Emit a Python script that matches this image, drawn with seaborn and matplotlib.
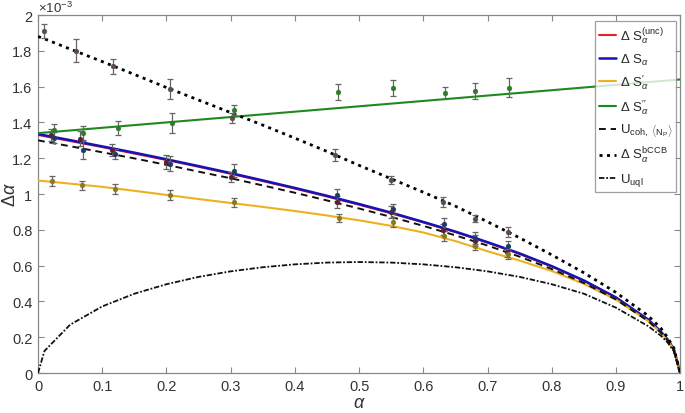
import numpy as np
import pandas as pd
import matplotlib
matplotlib.use("Agg")
import matplotlib.pyplot as plt
import seaborn as sns

# ---- curve data (values in units of 1e-3) ----
alpha_grid = [0.0, 0.01, 0.05, 0.1, 0.15, 0.2, 0.25, 0.3, 0.35, 0.4, 0.45, 0.5, 0.55,
              0.6, 0.65, 0.7, 0.75, 0.8, 0.85, 0.9, 0.95, 0.97, 0.98, 0.99, 1.0]
dS_unc = [1.330, 1.323, 1.296, 1.262, 1.226, 1.190, 1.152, 1.113, 1.072, 1.030, 0.986, 0.940,
          0.892, 0.841, 0.787, 0.728, 0.665, 0.595, 0.515, 0.421, 0.297, 0.230, 0.188, 0.133, 0.0]
dS = [1.335, 1.328, 1.301, 1.266, 1.231, 1.194, 1.156, 1.117, 1.076, 1.034, 0.990, 0.944,
      0.896, 0.844, 0.790, 0.731, 0.668, 0.597, 0.517, 0.422, 0.299, 0.231, 0.189, 0.134, 0.0]
dS_p = [1.075, 1.072, 1.058, 1.040, 1.018, 0.995, 0.972, 0.950, 0.928, 0.905, 0.880, 0.853,
        0.822, 0.785, 0.737, 0.680, 0.628, 0.570, 0.498, 0.410, 0.290, 0.225, 0.184, 0.130, 0.0]
dS_pp = [1.340, 1.343, 1.355, 1.370, 1.385, 1.400, 1.415, 1.430, 1.445, 1.460, 1.475, 1.490, 1.505,
         1.520, 1.535, 1.550, 1.565, 1.580, 1.595, 1.610, 1.625, 1.631, 1.634, 1.637, 1.640]
U_coh = [1.300, 1.293, 1.267, 1.233, 1.199, 1.163, 1.125, 1.088, 1.048, 1.007, 0.964, 0.919,
         0.872, 0.822, 0.769, 0.712, 0.650, 0.581, 0.503, 0.411, 0.291, 0.225, 0.184, 0.130, 0.0]
dS_bCCB = [1.880, 1.867, 1.810, 1.740, 1.668, 1.595, 1.525, 1.455, 1.385, 1.312, 1.238, 1.160, 1.085,
           1.010, 0.932, 0.845, 0.755, 0.660, 0.560, 0.450, 0.320, 0.250, 0.200, 0.140, 0.0]
U_uql = [0.0, 0.123, 0.270, 0.372, 0.443, 0.496, 0.537, 0.568, 0.591, 0.607, 0.617, 0.620, 0.617,
         0.607, 0.591, 0.568, 0.537, 0.496, 0.443, 0.365, 0.262, 0.208, 0.172, 0.122, 0.0]

# ---- measured points (values in units of 1e-3) ----
bccb_x = [0.009, 0.059, 0.116, 0.205, 0.302, 0.463, 0.550, 0.631, 0.680, 0.732]
bccb_y = [1.91, 1.80, 1.715, 1.587, 1.425, 1.218, 1.078, 0.955, 0.862, 0.788]
bccb_e = [0.040, 0.065, 0.042, 0.055, 0.030, 0.035, 0.020, 0.030, 0.020, 0.030]

grn_x = [0.025, 0.070, 0.124, 0.208, 0.305, 0.467, 0.552, 0.634, 0.681, 0.733]
grn_y = [1.355, 1.340, 1.370, 1.395, 1.469, 1.570, 1.590, 1.564, 1.575, 1.595]
grn_e = [0.035, 0.040, 0.040, 0.055, 0.030, 0.045, 0.045, 0.035, 0.045, 0.055]

red_x = [0.020, 0.065, 0.115, 0.200, 0.300, 0.465, 0.550, 0.630, 0.680, 0.730]
red_y = [1.330, 1.310, 1.245, 1.180, 1.095, 0.955, 0.900, 0.800, 0.740, 0.676]
red_e = [0.035, 0.040, 0.035, 0.040, 0.030, 0.035, 0.035, 0.030, 0.030, 0.030]

blu_x = [0.025, 0.070, 0.120, 0.205, 0.305, 0.465, 0.552, 0.632, 0.681, 0.732]
blu_y = [1.315, 1.245, 1.223, 1.170, 1.130, 0.995, 0.916, 0.830, 0.755, 0.710]
blu_e = [0.030, 0.050, 0.030, 0.040, 0.035, 0.035, 0.030, 0.035, 0.035, 0.030]

yel_x = [0.022, 0.068, 0.120, 0.205, 0.305, 0.468, 0.552, 0.632, 0.680, 0.732]
yel_y = [1.072, 1.050, 1.028, 0.994, 0.955, 0.866, 0.843, 0.765, 0.710, 0.665]
yel_e = [0.030, 0.025, 0.030, 0.030, 0.025, 0.025, 0.030, 0.030, 0.025, 0.030]

x_ticks = [0, 0.1, 0.2, 0.3, 0.4, 0.5, 0.6, 0.7, 0.8, 0.9, 1]
y_ticks = [0, 0.2, 0.4, 0.6, 0.8, 1.0, 1.2, 1.4, 1.6, 1.8, 2.0]

sns.set_theme(style="white")
plt.rcParams['font.family'] = ['Liberation Sans', 'DejaVu Sans']
plt.rcParams['mathtext.fontset'] = 'custom'
plt.rcParams['mathtext.rm'] = 'Liberation Sans'
plt.rcParams['mathtext.it'] = 'Liberation Sans:italic'
plt.rcParams['mathtext.sf'] = 'Liberation Sans'

fig = plt.figure(figsize=(6.85, 4.14), dpi=100)
ax = fig.add_axes([0.0555, 0.0966, 0.9375, 0.8647])

df = pd.DataFrame({"alpha": alpha_grid})
curves = [
    (dS_unc, "#e0242b", "-", 1.5, r"$\Delta\ \mathrm{S}_\alpha^{(\mathrm{unc})}$"),
    (dS, "#1414b4", "-", 1.8, r"$\Delta\ \mathrm{S}_\alpha$"),
    (dS_p, "#edb120", "-", 1.5, r"$\Delta\ \mathrm{S}_\alpha^{\prime}$"),
    (dS_pp, "#1e8a1e", "-", 1.5, r"$\Delta\ \mathrm{S}_\alpha^{\prime\prime}$"),
    (U_coh, "#111111", (0, (3.5, 2.5)), 1.4, r"$\mathrm{U}_{\mathrm{coh,}\ \langle \mathrm{N_P}\rangle}$"),
    (dS_bCCB, "#000000", (0, (1.1, 1.6)), 2.0, r"$\Delta\ \mathrm{S}_\alpha^{\mathrm{bCCB}}$"),
    (U_uql, "#111111", (0, (3, 1, 1, 1)), 1.3, r"$\mathrm{U}_{\mathrm{uql}}$"),
]
handles = []
for vals, col, ls, lw, lab in curves:
    df["v"] = vals
    sns.lineplot(data=df, x="alpha", y="v", ax=ax, color=col, linestyle=ls,
                 linewidth=lw, label=lab, legend=False, zorder=3)
    handles.append(ax.lines[-1])

pts = [
    (bccb_x, bccb_y, bccb_e, "#5b4b50"),
    (grn_x, grn_y, grn_e, "#2d7a2d"),
    (red_x, red_y, red_e, "#5a2030"),
    (blu_x, blu_y, blu_e, "#1d3a66"),
    (yel_x, yel_y, yel_e, "#8a7a1e"),
]
for xs, ys, es, col in pts:
    ax.errorbar(xs, ys, yerr=es, fmt="none", ecolor="#666666", elinewidth=0.9,
                capsize=2.5, capthick=0.9, zorder=4)
    sns.scatterplot(x=xs, y=ys, ax=ax, color=col, s=12, edgecolor=col,
                    linewidth=0.3, zorder=5, legend=False)

ax.set_xlim(0, 1)
ax.set_ylim(0, 2)
ax.set_xticks(x_ticks)
ax.set_xticklabels([f"{t:g}" for t in x_ticks])
ax.set_yticks(y_ticks)
ax.set_yticklabels([f"{t:g}" for t in y_ticks])
ax.tick_params(direction="in", length=4, width=0.8, color="#888888",
               labelsize=10.5, labelcolor="#333333", top=True, right=True,
               bottom=True, left=True, pad=4)
for sp in ax.spines.values():
    sp.set_color("#888888")
    sp.set_linewidth(0.9)

ax.set_xlabel(r"$\alpha$", fontsize=13, color="#333333")
ax.xaxis.set_label_coords(0.5, -0.058)
ax.set_ylabel(r"$\Delta\alpha$", fontsize=13, color="#333333")
ax.yaxis.set_label_coords(-0.029, 0.5)
ax.text(0.0, 1.0, r"$\times10^{-3}$", transform=ax.transAxes, fontsize=9.5,
        color="#333333", va="bottom", ha="left")

leg = ax.legend(handles=handles, labels=[c[4] for c in curves],
                loc="upper right", bbox_to_anchor=(0.987, 0.946),
                bbox_transform=fig.transFigure, fontsize=9.5, frameon=True,
                fancybox=False, edgecolor="#888888", handlelength=1.3,
                handletextpad=0.3, borderpad=0.3, labelspacing=0.45,
                borderaxespad=0.0)
leg.get_frame().set_linewidth(0.9)
leg.set_zorder(10)

fig.savefig("out.png", dpi=100, facecolor="white")
